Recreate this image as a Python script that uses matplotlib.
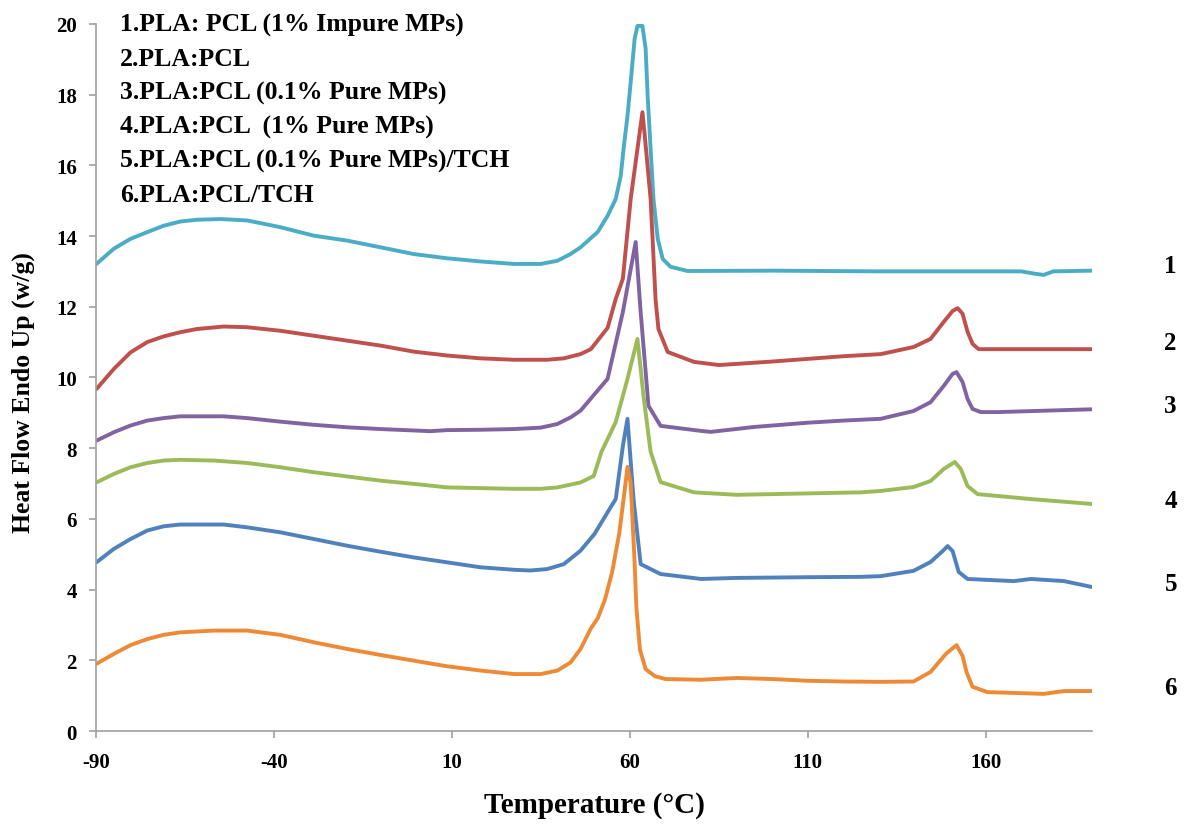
import matplotlib
matplotlib.use("Agg")
import matplotlib.pyplot as plt

# ---- data ----
x1 = [-90, -85.1, -80.4, -75.7, -71.1, -66.4, -61.7, -55.1, -47.6, -38.3, -28.9, -19.5, -10.1, -0.8, 8.6, 18.0, 27.4, 34.9, 39.6, 43.3, 46.1,
      50.9, 53.7, 56.0, 57.4, 58.2, 59.3, 60.2, 61.3, 62.1, 63.5, 64.4, 65.0, 65.8, 66.6, 67.8, 69.2, 71.4, 76.2,
      100, 130, 170, 174, 176.3, 179, 190]
y1 = [13.21, 13.64, 13.92, 14.11, 14.29, 14.41, 14.46, 14.48, 14.44, 14.25, 14.01, 13.87, 13.68, 13.49, 13.37, 13.28, 13.21, 13.21, 13.3, 13.49, 13.68,
      14.11, 14.57, 15.05, 15.7, 16.46, 17.4, 18.35, 19.57, 19.94, 19.94, 19.3, 17.9, 16.46, 15.05, 13.92, 13.35, 13.13, 13.01,
      13.02, 13.0, 13.0, 12.93, 12.9, 13.0, 13.02]

x2 = [-90, -85.1, -80.4, -75.7, -71.1, -66.4, -61.7, -54.2, -47.6, -38.3, -28.9, -19.5, -10.1, -0.8, 8.6, 18.0, 27.4, 36.7, 41.4, 46.1,
      49, 53.7, 56.0, 58.0, 60.2, 63.5, 64.1, 65.8, 67.2, 68.0, 70.6, 78, 85, 100, 120, 130.5, 139.7, 144.5, 148.2, 150.7, 152.1,
      153.5, 154.9, 156.3, 158, 170, 190]
y2 = [9.67, 10.24, 10.71, 11.0, 11.16, 11.28, 11.37, 11.44, 11.42, 11.32, 11.18, 11.04, 10.90, 10.73, 10.62, 10.54, 10.50, 10.50, 10.54, 10.66,
      10.8, 11.4, 12.22, 12.79, 15.05, 17.5, 16.9, 15.05, 12.2, 11.37, 10.72, 10.44, 10.35, 10.45, 10.6, 10.66, 10.86, 11.09, 11.57, 11.88, 11.96,
      11.8, 11.29, 10.95, 10.8, 10.8, 10.8]

x3 = [-90, -85.1, -80.4, -75.7, -71.1, -66.4, -54.2, -47.6, -38.3, -28.9, -19.5, -10.1, -0.8, 3.9, 8.6, 18.0, 27.4, 34.9, 39.5, 43.3, 46.1,
      53.7, 58, 61.6, 63, 65.2, 68.6, 79.8, 82.7, 95, 110, 120, 130.5, 139.7, 144.5, 148.2, 150.7, 151.8, 153.5, 154.9, 156.3, 158.6, 163.4, 190]
y3 = [8.21, 8.45, 8.64, 8.78, 8.85, 8.90, 8.90, 8.85, 8.75, 8.66, 8.59, 8.54, 8.50, 8.48, 8.51, 8.52, 8.54, 8.58, 8.68, 8.87, 9.06,
      9.96, 11.85, 13.83, 11.85, 9.2, 8.63, 8.49, 8.46, 8.6, 8.72, 8.78, 8.83, 9.05, 9.3, 9.76, 10.1, 10.15, 9.87, 9.39, 9.11, 9.02, 9.02, 9.1]

x4 = [-90, -85.1, -80.4, -75.7, -71.1, -66.4, -57, -47.6, -38.3, -28.9, -19.5, -10.1, -0.8, 8.6, 18.0, 27.4, 34.9, 39.6, 46.1,
      49.8, 52, 56, 59.3, 62.1, 63.8, 65.8, 68.6, 78, 90, 110, 125, 130.5, 139.7, 144.5, 148.2, 151.3, 153, 154.9, 157.7, 172.7, 190]
y4 = [7.03, 7.27, 7.46, 7.58, 7.65, 7.67, 7.65, 7.58, 7.46, 7.32, 7.20, 7.08, 6.99, 6.89, 6.87, 6.85, 6.85, 6.89, 7.03,
      7.21, 7.9, 8.74, 9.96, 11.09, 9.48, 7.9, 7.04, 6.75, 6.68, 6.72, 6.75, 6.79, 6.9, 7.07, 7.41, 7.61, 7.41, 6.93, 6.7, 6.56, 6.42]

x5 = [-90, -85.1, -80.4, -75.7, -71.1, -66.4, -54.2, -47.6, -38.3, -28.9, -19.5, -10.1, -0.8, 8.6, 18.0, 27.4, 32.0, 36.7, 41.4, 46.1,
      50, 55, 56, 58, 59.3, 61, 63, 68.6, 80, 90, 110, 125, 130.5, 139.7, 144.5, 147.9, 149.3, 150.7, 152.4, 154.9, 167.9, 172.7, 182, 190]
y5 = [4.77, 5.15, 5.43, 5.67, 5.79, 5.84, 5.84, 5.76, 5.62, 5.43, 5.24, 5.07, 4.91, 4.77, 4.63, 4.56, 4.54, 4.58, 4.72, 5.10,
      5.57, 6.4, 6.56, 8.06, 8.83, 6.56, 4.72, 4.44, 4.3, 4.33, 4.35, 4.36, 4.38, 4.53, 4.78, 5.09, 5.23, 5.09, 4.5, 4.3, 4.24, 4.3, 4.24, 4.07]

x6 = [-90, -85.1, -80.4, -75.7, -71.1, -66.4, -57, -47.6, -38.3, -28.9, -19.5, -10.1, -0.8, 8.6, 18.0, 27.4, 34.9, 39.6, 43.3, 46.1,
      49, 51, 53, 55, 57, 58.5, 59.3, 60.2, 61.2, 61.8, 62.8, 64.4, 67, 70, 80, 90, 100, 110, 120, 130.5, 139.7, 144.5, 148.8, 151.8,
      153.5, 154.6, 156.3, 160.5, 176.3, 182, 190]
y6 = [1.90, 2.18, 2.43, 2.60, 2.72, 2.79, 2.84, 2.84, 2.72, 2.51, 2.32, 2.15, 1.99, 1.83, 1.71, 1.61, 1.61, 1.71, 1.94, 2.32,
      2.9, 3.2, 3.73, 4.5, 5.6, 6.8, 7.47, 7.0, 5.0, 3.5, 2.3, 1.75, 1.55, 1.47, 1.45, 1.5, 1.47, 1.42, 1.4, 1.39, 1.4, 1.67, 2.18, 2.43,
      2.12, 1.67, 1.25, 1.1, 1.05, 1.13, 1.13]

series = [(x1, y1), (x2, y2), (x3, y3), (x4, y4), (x5, y5), (x6, y6)]
colors = ["#4BACC6", "#C0504D", "#8064A2", "#9BBB59", "#4F81BD", "#EE8A36"]
legend_lines = [
    "1.PLA: PCL (1% Impure MPs)",
    "2.PLA:PCL",
    "3.PLA:PCL (0.1% Pure MPs)",
    "4.PLA:PCL  (1% Pure MPs)",
    "5.PLA:PCL (0.1% Pure MPs)/TCH",
    "6.PLA:PCL/TCH",
]
curve_labels = ["1", "2", "3", "4", "5", "6"]
curve_label_y = [13.16, 11.0, 9.2, 6.51, 4.16, 1.24]
xticks = [-90, -40, 10, 60, 110, 160]
yticks = list(range(0, 21, 2))

# ---- figure ----
plt.rcParams['font.family'] = ['Liberation Serif', 'DejaVu Serif']
plt.rcParams['axes.unicode_minus'] = False
fig = plt.figure(figsize=(11.9, 8.29), dpi=100)
ax = fig.add_axes([0.081, 0.117, 0.837, 0.853])

for (xs, ys), c in zip(series, colors):
    ax.plot(xs, ys, color=c, lw=2.8, solid_joinstyle='round', solid_capstyle='round')

ax.set_xlim(-90, 190)
ax.set_ylim(0, 20)
ax.set_xticks(xticks)
ax.set_yticks(yticks)
for s in ['top', 'right']:
    ax.spines[s].set_visible(False)
for s in ['left', 'bottom']:
    ax.spines[s].set_color('#a0a0a0')
    ax.spines[s].set_linewidth(1.2)
ax.tick_params(axis='both', colors='#a0a0a0', length=5, width=1.2, direction='out')
ax.tick_params(axis='x', pad=10)
ax.tick_params(axis='y', pad=9)
for lab in ax.get_xticklabels() + ax.get_yticklabels():
    lab.set_color('black')
    lab.set_fontweight('bold')
    lab.set_fontsize(15)

ax.set_xlabel("Temperature (°C)", fontsize=21, fontweight='bold', labelpad=14)
ax.set_ylabel("Heat Flow Endo Up (w/g)", fontsize=18.5, fontweight='bold', labelpad=9)
ax.yaxis.set_label_coords(-0.062, 0.48)

for i, t in enumerate(legend_lines):
    fig.text(120 / 1190, 1 - (25 + 34 * i) / 829, t, fontsize=18.5, fontweight='bold',
             ha='left', va='center')

for t, yv in zip(curve_labels, curve_label_y):
    ax.text(212, yv, t, fontsize=18, fontweight='bold', ha='center', va='center', clip_on=False)

fig.savefig("out.png", dpi=100)
